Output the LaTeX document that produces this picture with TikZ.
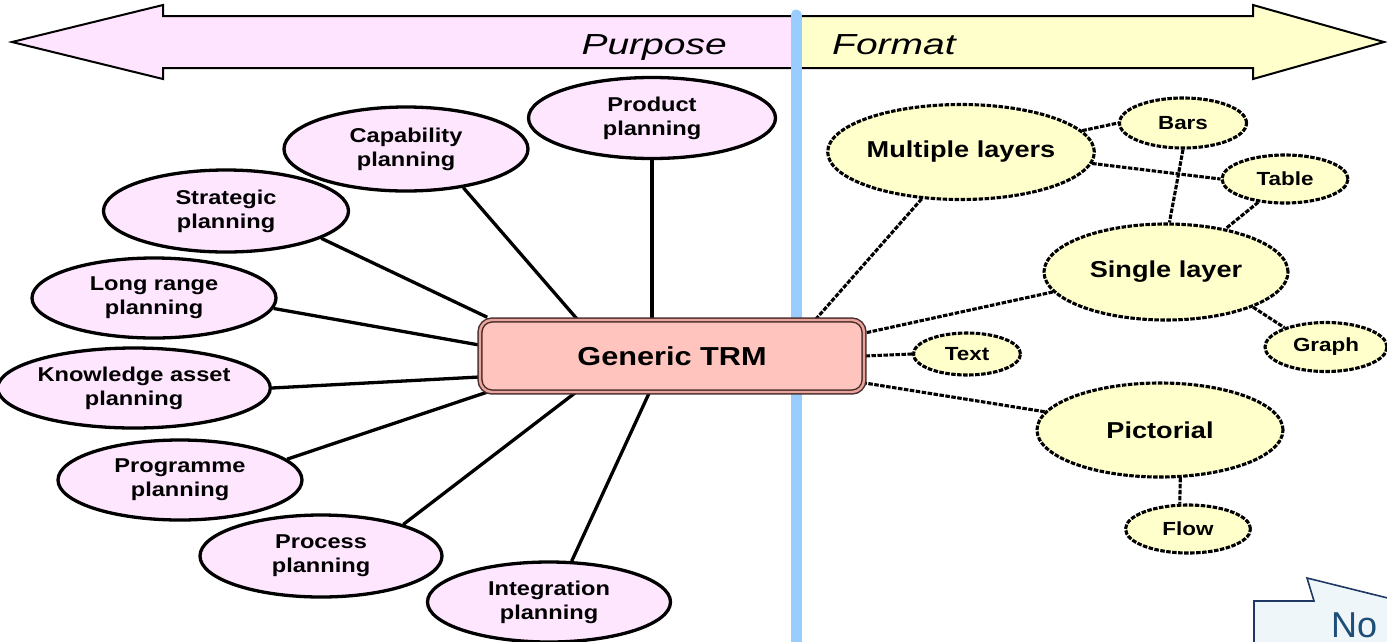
\documentclass[tikz,border=0pt]{standalone}
\usepackage{fontspec}
\setmainfont{Liberation Sans}[FakeStretch=1.18]
\newfontfamily\notefont{Liberation Sans}
\usepackage{graphicx}
\usetikzlibrary{shapes.geometric}

\definecolor{planfill}{HTML}{FFE6FF}
\definecolor{arrowpink}{HTML}{FFE4FF}
\definecolor{fmtfill}{HTML}{FFFFCC}
\definecolor{trmfill}{HTML}{FFC4BD}
\definecolor{trmline}{HTML}{4A2E2C}
\definecolor{trmgap}{HTML}{E9A59C}
\definecolor{sepblue}{HTML}{99CCFF}
\definecolor{notefill}{HTML}{EEF6FA}
\definecolor{noteline}{HTML}{1F3864}
\definecolor{notetext}{HTML}{1F4E79}

\pgfdeclarelayer{bg}
\pgfsetlayers{bg,main}

\tikzset{
  plan/.style={ellipse, draw, line width=3.3pt, fill=planfill, inner sep=0pt,
    align=center, font=\bfseries\fontsize{20}{24}\selectfont},
  fmt/.style={ellipse, draw, line width=3.1pt, dash pattern=on 4.5pt off 1.5pt,
    fill=fmtfill, inner sep=0pt, font=\bfseries\fontsize{19}{22}\selectfont},
  fmtbig/.style={fmt, font=\bfseries\fontsize{23}{26}\selectfont},
  link/.style={line width=3.3pt},
  dlink/.style={line width=3.1pt, dash pattern=on 4.5pt off 1.5pt},
  trmbox/.style={rectangle, rounded corners=12pt, draw=trmline, double=trmgap,
    double distance=2.4pt, line width=1.5pt, fill=trmfill,
    minimum width=384, minimum height=72,
    font=\bfseries\fontsize{26}{29}\selectfont},
  axislabel/.style={inner sep=0pt, font=\itshape\fontsize{29}{32}\selectfont},
}

\begin{document}
\begin{tikzpicture}[x=1pt,y=-1pt]
\useasboundingbox (0,0) rectangle (1387,641);
\clip (0,0) rectangle (1387,641);

% double-headed axis arrow, pink on the purpose side, yellow on the format side
\draw[line width=2pt, line join=miter,
  path picture={
    \fill[arrowpink] (0,0) rectangle (796,100);
    \fill[fmtfill] (796,0) rectangle (1400,100);
  }]
  (12,42) -- (163,5) -- (163,16) -- (1253,16) -- (1253,5) -- (1384,42)
  -- (1253,79) -- (1253,68) -- (163,68) -- (163,79) -- cycle;

\node[axislabel, anchor=base east] (purpose) at (727,54) {\scalebox{1.14}[1]{Purpose}};
\node[axislabel, anchor=base west] (format) at (832,54) {\scalebox{1.14}[1]{Format}};

% separator between the two halves
\draw[line width=11pt, sepblue, line cap=round] (796,15) -- (796,660);

% central node
\node[trmbox] (trm) at (672,356) {Generic TRM};

% purpose side
\node[plan, minimum width=247, minimum height=81] (prod)  at (652,118) {Product\\planning};
\node[plan, minimum width=244, minimum height=84] (cap)   at (406,149) {Capability\\planning};
\node[plan, minimum width=245, minimum height=82] (strat) at (226,211) {Strategic\\planning};
\node[plan, minimum width=244, minimum height=80] (long)  at (154,298) {Long range\\planning};
\node[plan, minimum width=244, minimum height=80] (know)  at (134,388) {Knowledge asset\\planning};
\node[plan, minimum width=244, minimum height=80] (prog)  at (180,480) {Programme\\planning};
\node[plan, minimum width=242, minimum height=82] (proc)  at (321,556) {Process\\planning};
\node[plan, minimum width=243, minimum height=80] (integ) at (549,602) {Integration\\planning};

% format side
\node[fmtbig, minimum width=247, minimum height=95] (multi)  at (961,152) {Multiple layers};
\node[fmt, minimum width=127, minimum height=50]    (bars)   at (1183,123) {Bars};
\node[fmt, minimum width=126, minimum height=48]    (table)  at (1285,179) {Table};
\node[fmtbig, minimum width=244, minimum height=96] (single) at (1166,272) {Single layer};
\node[fmt, minimum width=122, minimum height=49]    (graph)  at (1326,347) {Graph};
\node[fmt, minimum width=107, minimum height=42]    (text)   at (967,354) {Text};
\node[fmtbig, minimum width=246, minimum height=94] (pict)   at (1160,430) {Pictorial};
\node[fmt, minimum width=125, minimum height=48]    (flow)   at (1188,529) {Flow};

\begin{pgfonlayer}{bg}
  % purpose connectors
  \draw[link] (prod.south) -- (prod.south |- trm.north);
  \draw[link] (cap.-34) -- ([xshift=98pt]trm.north west);
  \draw[link] (strat.-16) -- ([xshift=8pt,yshift=2pt]trm.north west);
  \draw[link] (long.-5) -- ([yshift=11pt]trm.west);
  \draw[link] (know.0) -- ([yshift=-21pt]trm.west);
  \draw[link] (prog.11) -- ([xshift=12pt,yshift=2pt]trm.south west);
  \draw[link] (proc.21) -- ([xshift=96pt]trm.south west);
  \draw[link] (integ.61) -- ([xshift=170pt]trm.south west);
  % format connectors
  \draw[dlink] (multi.230) -- ([xshift=-49pt]trm.north east);
  \draw[dlink] (single.190) -- ([yshift=23pt]trm.east);
  \draw[dlink] (text.west) -- (trm.east);
  \draw[dlink] (pict.171) -- ([yshift=-27pt]trm.east);
  \draw[dlink] (multi.10) -- (bars.west);
  \draw[dlink] (multi.-5) -- (table.west);
  \draw[dlink] (bars.south) -- (single.86);
  \draw[dlink] (table.-139) -- (single.36);
  \draw[dlink] (single.-22) -- (graph.155);
  \draw[dlink] (pict.-67) -- (flow.108);
\end{pgfonlayer}

% note callout in the corner
\draw[line width=1.6pt, draw=noteline, fill=notefill, line join=miter]
  (1254,660) -- (1254,601) -- (1314,601) -- (1307,578) -- (1420,606)
  -- (1420,660) -- cycle;
\node[anchor=base west, inner sep=0pt, text=notetext,
  font=\notefont\fontsize{36}{40}\selectfont] (note) at (1331,637) {No};
\end{tikzpicture}
\end{document}
